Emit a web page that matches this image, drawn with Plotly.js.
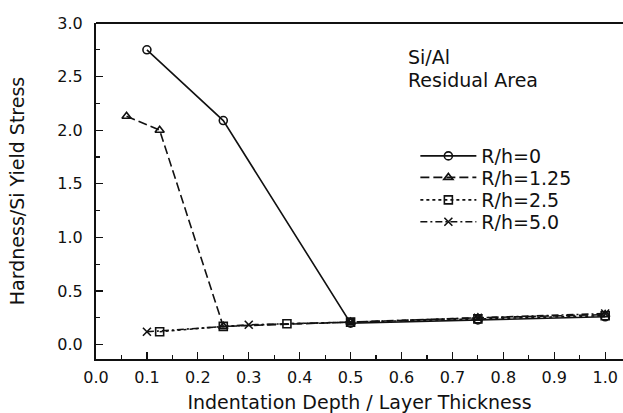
<!DOCTYPE html>
<html>
<head>
<meta charset="utf-8">
<script src="https://cdn.plot.ly/plotly-3.0.1.min.js"></script>
<style>html,body{margin:0;padding:0;background:#fff}#chart{width:623px;height:413px}</style>
</head>
<body>
<div id="chart"></div>
<script>
// Data
const seriesNames = ["R/h=0", "R/h=1.25", "R/h=2.5", "R/h=5.0"];
const x_r0   = [0.1, 0.25, 0.5, 0.75, 1.0];
const y_r0   = [2.75, 2.09, 0.20, 0.23, 0.26];
const x_r125 = [0.06, 0.125, 0.25, 0.5, 0.75, 1.0];
const y_r125 = [2.13, 2.0, 0.17, 0.21, 0.25, 0.28];
const x_r25  = [0.125, 0.25, 0.375, 0.5, 0.75, 1.0];
const y_r25  = [0.12, 0.17, 0.195, 0.21, 0.24, 0.27];
const x_r5   = [0.1, 0.3, 0.5, 0.75, 1.0];
const y_r5   = [0.12, 0.185, 0.21, 0.25, 0.29];
const xTicks = [0.0,0.1,0.2,0.3,0.4,0.5,0.6,0.7,0.8,0.9,1.0];
const yTicks = [0.0,0.5,1.0,1.5,2.0,2.5,3.0];

const FONT = "DejaVu Sans, sans-serif";
const C = "#111";
function tr(x, y, name, dash, sym, leg) {
  return {x: x, y: y, name: name, type: "scatter", mode: "lines+markers", legend: leg,
    line: {color: C, width: 1.6, dash: dash},
    marker: {symbol: sym, size: 8, color: C, line: {color: C, width: 1.6}}};
}
const data = [
  tr(x_r0, y_r0, seriesNames[0], "solid", "circle-open", "legend"),
  tr(x_r125, y_r125, seriesNames[1], "9px,4px", "triangle-up-open", "legend2"),
  tr(x_r25, y_r25, seriesNames[2], "3px,3px", "square-open", "legend3"),
  tr(x_r5, y_r5, seriesNames[3], "7px,3px,2px,3px", "x-thin-open", "legend4")
];
function leg(yc) {
  return {x: 0.606, y: yc, xanchor: "left", yanchor: "middle",
    bgcolor: "rgba(0,0,0,0)", font: {size: 19, family: FONT}, itemwidth: 56};
}
const layout = {
  width: 623, height: 413,
  margin: {l: 96, r: 0, t: 23, b: 54},
  paper_bgcolor: "#fff", plot_bgcolor: "#fff",
  font: {family: FONT, color: C, size: 16},
  showlegend: true,
  legend: leg(0.604), legend2: leg(0.540), legend3: leg(0.473), legend4: leg(0.408),
  xaxis: {range: [0, 1.035], tickmode: "array", tickvals: xTicks,
    ticktext: xTicks.map(v => v.toFixed(1)), ticks: "inside", ticklen: 7, tickwidth: 1.3,
    tickcolor: C, showline: true, linecolor: C, linewidth: 2, showgrid: false, zeroline: false,
    minor: {dtick: 0.05, ticks: "inside", ticklen: 4, tickcolor: C, tickwidth: 1.2, showgrid: false},
    ticklabelstandoff: 3, tickfont: {size: 16},
    title: {text: "Indentation Depth / Layer Thickness", font: {size: 19}, standoff: 10}},
  yaxis: {range: [-0.134, 3.0], tickmode: "array", tickvals: yTicks,
    ticktext: yTicks.map(v => v.toFixed(1)), ticks: "inside", ticklen: 7, tickwidth: 1.3,
    tickcolor: C, showline: true, linecolor: C, linewidth: 2, showgrid: false, zeroline: false,
    minor: {dtick: 0.25, ticks: "inside", ticklen: 4, tickcolor: C, tickwidth: 1.2, showgrid: false},
    ticklabelstandoff: 8, tickfont: {size: 16},
    title: {text: "Hardness/Si Yield Stress", font: {size: 19}, standoff: 28}},
  shapes: [{type: "line", xref: "paper", yref: "paper", x0: 0, x1: 1, y0: 1, y1: 1,
    line: {color: C, width: 2}}],
  annotations: [
    {xref: "paper", yref: "paper", x: 0.589, y: 0.899, xanchor: "left", yanchor: "middle",
     showarrow: false, text: "Si/Al", font: {size: 19, family: FONT}},
    {xref: "paper", yref: "paper", x: 0.589, y: 0.830, xanchor: "left", yanchor: "middle",
     showarrow: false, text: "Residual Area", font: {size: 19, family: FONT}}]
};
Plotly.newPlot("chart", data, layout, {displayModeBar: false, staticPlot: true});
</script>
</body>
</html>
